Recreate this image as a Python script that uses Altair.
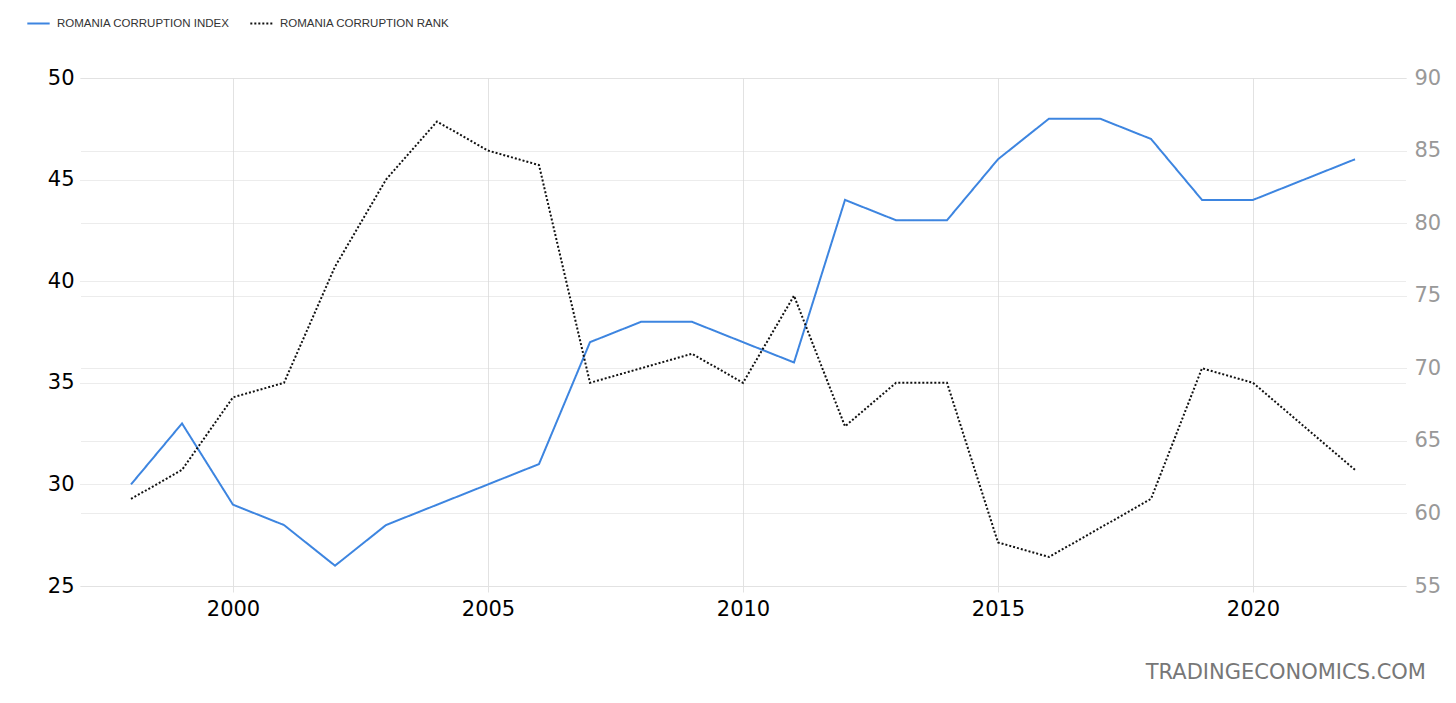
import altair as alt
import pandas as pd

years = list(range(1998, 2023))
index_vals = [30, 33, 29, 28, 26, 28, 29, 30, 31, 37, 38, 38, 37, 36, 44, 43, 43, 46, 48, 48, 47, 44, 44, 45, 46]
rank_vals = [61, 63, 68, 69, 77, 83, 87, 85, 84, 69, 70, 71, 69, 75, 66, 69, 69, 58, 57, 59, 61, 70, 69, 66, 63]

S1 = "ROMANIA CORRUPTION INDEX"
S2 = "ROMANIA CORRUPTION RANK"

df = pd.DataFrame(
    {"year": years * 2,
     "value": index_vals + rank_vals,
     "series": [S1] * len(years) + [S2] * len(years)}
)

FONT = "DejaVu Sans"

legend = alt.Legend(
    title=None, orient="none", legendX=-54, legendY=-67, direction="horizontal",
    labelFont="Liberation Sans", labelFontSize=11.5, labelColor="#333333", labelLimit=0,
    symbolType="stroke", symbolSize=500, symbolStrokeWidth=2,
    columnPadding=16, labelOffset=6,
)

color = alt.Color(
    "series:N",
    scale=alt.Scale(domain=[S1, S2], range=["#3d85e0", "#111111"]),
    legend=legend,
)
dash = alt.StrokeDash(
    "series:N",
    scale=alt.Scale(domain=[S1, S2], range=[[1, 0], [2, 2]]),
    legend=legend,
)

xenc = alt.X(
    "year:Q",
    scale=alt.Scale(domain=[1997, 2023], nice=False, zero=False),
    axis=alt.Axis(
        title=None, values=[2000, 2005, 2010, 2015, 2020], format="d",
        labelFont=FONT, labelFontSize=21, labelColor="#000000", labelPadding=6,
        grid=True, gridColor="#e2e2e2", gridWidth=1, domain=False,
        ticks=True, tickColor="#e2e2e2", tickSize=6,
    ),
)

base = alt.Chart(df)

left = base.transform_filter(alt.datum.series == S1).mark_line(strokeWidth=2).encode(
    x=xenc,
    y=alt.Y(
        "value:Q",
        scale=alt.Scale(domain=[25, 50], nice=False, zero=False),
        axis=alt.Axis(
            title=None, orient="left", values=[25, 30, 35, 40, 45, 50],
            labelFont=FONT, labelFontSize=21, labelColor="#000000", labelPadding=6,
            grid=True, gridColor="#d8d8d8", gridDash=[1, 1], gridWidth=1,
            domain=False, ticks=False,
        ),
    ),
    color=color,
    strokeDash=dash,
)

right = base.transform_filter(alt.datum.series == S2).mark_line(strokeWidth=2).encode(
    x=xenc,
    y=alt.Y(
        "value:Q",
        scale=alt.Scale(domain=[55, 90], nice=False, zero=False),
        axis=alt.Axis(
            title=None, orient="right", values=[55, 60, 65, 70, 75, 80, 85, 90],
            labelFont=FONT, labelFontSize=21, labelColor="#999999", labelPadding=8,
            grid=True, gridColor="#d8d8d8", gridDash=[1, 1], gridWidth=1,
            domain=False, ticks=False,
        ),
    ),
    color=color,
    strokeDash=dash,
)

lines = alt.layer(left, right).resolve_scale(y="independent")

watermark = alt.Chart(pd.DataFrame({"t": ["TRADINGECONOMICS.COM"]})).mark_text(
    align="right", baseline="middle", font=FONT, fontSize=21, color="#777777"
).encode(text="t:N", x=alt.value(1346), y=alt.value(595))

chart = alt.layer(lines, watermark).properties(
    width=1326, height=508,
    autosize=alt.AutoSizeParams(type="none"),
    padding={"left": 72, "top": 70, "right": 40, "bottom": 100},
).configure(background="white").configure_view(stroke="transparent", strokeWidth=0)

chart.save("out.html", embed_options={"renderer": "svg", "actions": False})
